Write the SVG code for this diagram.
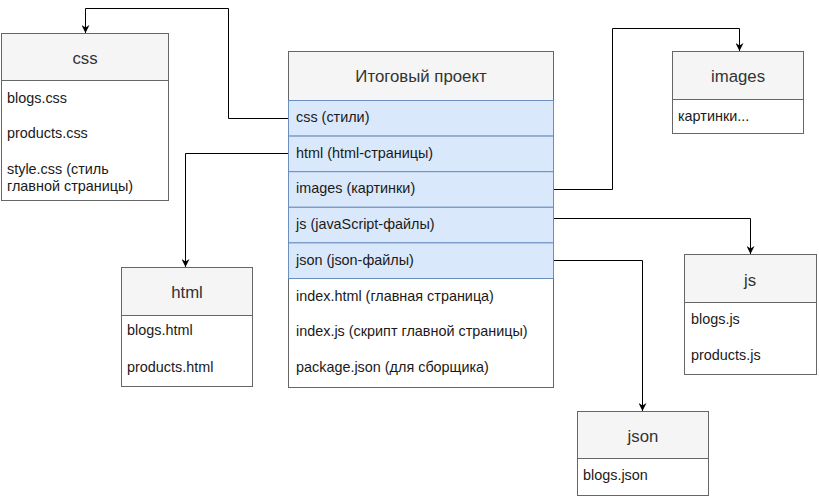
<svg xmlns="http://www.w3.org/2000/svg" width="819" height="500" viewBox="0 0 819 500">
  <defs>
    <marker id="arrow" viewBox="0 0 10 10" refX="10" refY="5" markerWidth="8" markerHeight="8" markerUnits="userSpaceOnUse" orient="auto">
      <path d="M0,0 L10,5 L0,10 L3,5 Z" fill="#000"/>
    </marker>
  </defs>
  <style>
    text { font-family: "Liberation Sans", Arial, sans-serif; }
    .box { fill: #ffffff; stroke: #666666; stroke-width: 1; }
    .head { fill: #f5f5f5; stroke: #666666; stroke-width: 1; }
    .row { fill: #dae8fc; stroke: #6c8ebf; stroke-width: 1; }
    .title { font-size: 16.8px; fill: #333333; text-anchor: middle; dominant-baseline: central; }
    .item { font-size: 14.4px; fill: #1a1a1a; dominant-baseline: central; }
    .link { fill: none; stroke: #000000; stroke-width: 1; marker-end: url(#arrow); }
  </style>
  <rect width="819" height="500" fill="#ffffff"/>

  <!-- connectors -->
  <g id="connectors">
    <path class="link" d="M288.5,118.5 H228.5 V8.5 H85.5 V33"/>
    <path class="link" d="M288.5,153.5 H185.5 V267"/>
    <path class="link" d="M553.5,189.5 H612.5 V28.5 H739.5 V51"/>
    <path class="link" d="M553.5,218.5 H750.5 V254"/>
    <path class="link" d="M553.5,260.5 H642.5 V411"/>
  </g>

  <!-- central project node -->
  <g id="project">
    <rect class="box" x="288.5" y="51.5" width="265" height="336"/>
    <rect class="head" x="288.5" y="51.5" width="265" height="49"/>
    <text class="title" x="421" y="76">Итоговый проект</text>
    <rect class="row" x="288.5" y="100.5" width="265" height="35.6"/>
    <rect class="row" x="288.5" y="136.1" width="265" height="35.6"/>
    <rect class="row" x="288.5" y="171.7" width="265" height="35.6"/>
    <rect class="row" x="288.5" y="207.3" width="265" height="35.6"/>
    <rect class="row" x="288.5" y="242.9" width="265" height="35.6"/>
    <text class="item" x="296" y="117">css (стили)</text>
    <text class="item" x="296" y="153">html (html-страницы)</text>
    <text class="item" x="296" y="188">images (картинки)</text>
    <text class="item" x="296" y="224">js (javaScript-файлы)</text>
    <text class="item" x="296" y="260">json (json-файлы)</text>
    <text class="item" x="296" y="296">index.html (главная страница)</text>
    <text class="item" x="296" y="331">index.js (скрипт главной страницы)</text>
    <text class="item" x="296" y="367">package.json (для сборщика)</text>
  </g>

  <!-- css folder -->
  <g id="css">
    <rect class="box" x="1.5" y="33.5" width="167" height="167"/>
    <rect class="head" x="1.5" y="33.5" width="167" height="47"/>
    <text class="title" x="85" y="58">css</text>
    <text class="item" x="7" y="98">blogs.css</text>
    <text class="item" x="7" y="133">products.css</text>
    <text class="item" x="7" y="169">style.css (стиль</text>
    <text class="item" x="7" y="186">главной страницы)</text>
  </g>

  <!-- html folder -->
  <g id="html">
    <rect class="box" x="121.5" y="267.5" width="131" height="119"/>
    <rect class="head" x="121.5" y="267.5" width="131" height="48"/>
    <text class="title" x="187" y="292">html</text>
    <text class="item" x="127" y="330">blogs.html</text>
    <text class="item" x="127" y="367">products.html</text>
  </g>

  <!-- images folder -->
  <g id="images">
    <rect class="box" x="672.5" y="51.5" width="131" height="82"/>
    <rect class="head" x="672.5" y="51.5" width="131" height="48"/>
    <text class="title" x="738" y="76">images</text>
    <text class="item" x="678" y="116">картинки...</text>
  </g>

  <!-- js folder -->
  <g id="js">
    <rect class="box" x="684.5" y="254.5" width="132" height="120"/>
    <rect class="head" x="684.5" y="254.5" width="132" height="48"/>
    <text class="title" x="750" y="280">js</text>
    <text class="item" x="691" y="319">blogs.js</text>
    <text class="item" x="691" y="355">products.js</text>
  </g>

  <!-- json folder -->
  <g id="json">
    <rect class="box" x="577.5" y="411.5" width="131" height="84"/>
    <rect class="head" x="577.5" y="411.5" width="131" height="47"/>
    <text class="title" x="643" y="436">json</text>
    <text class="item" x="583" y="475">blogs.json</text>
  </g>
</svg>
